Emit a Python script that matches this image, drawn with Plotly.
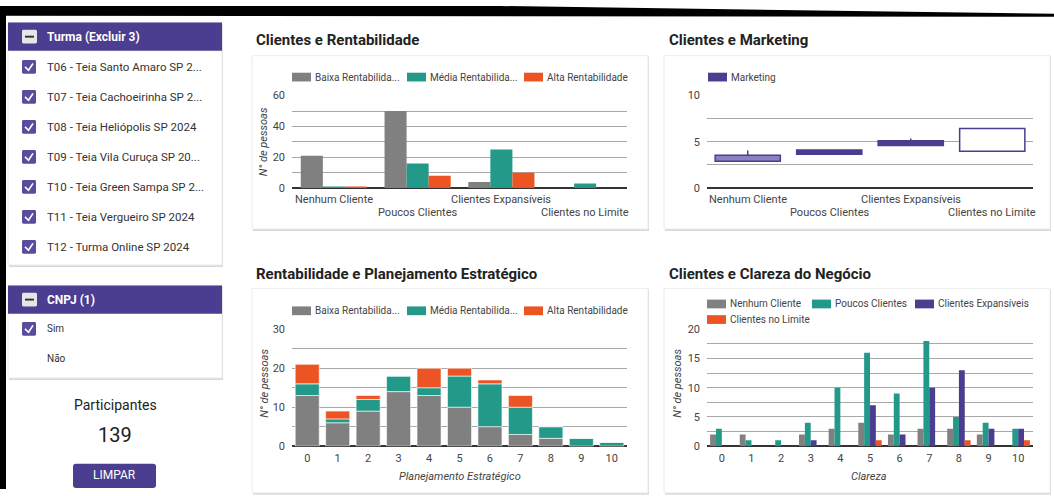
import plotly.graph_objects as go

W, H = 1054, 496


def px(x):
    return x / W


def py(y):
    return 1 - y / H


# ---------------- data ----------------
clientes = ["Nenhum Cliente", "Poucos Clientes", "Clientes Expansíveis", "Clientes no Limite"]
rent_names = ["Baixa Rentabilida...", "Média Rentabilida...", "Alta Rentabilidade"]

# Clientes e Rentabilidade (people per client group)
baixa_cli = [21, 50, 4, 0]
media_cli = [1, 16, 25, 3]
alta_cli = [1, 8, 10, 0]

# Clientes e Marketing (candles: low, open, close, high)
mk_low = [2.9, 3.67, 4.6, 3.99]
mk_open = [3.54, 4.13, 5.13, 3.99]
mk_close = [2.9, 3.67, 4.6, 6.43]
mk_high = [4.07, 4.13, 5.37, 6.43]

# Rentabilidade e Planejamento Estratégico (stacked)
notas = list(range(11))
baixa_plan = [13, 6, 9, 14, 13, 10, 5, 3, 2, 0, 0]
media_plan = [3, 1, 3, 4, 2, 8, 11, 7, 3, 2, 1]
alta_plan = [5, 2, 1, 0, 5, 2, 1, 3, 0, 0, 0]

# Clientes e Clareza do Negócio
clar_nenhum = [2, 2, 0, 2, 3, 4, 2, 3, 3, 2, 0]
clar_poucos = [3, 1, 1, 4, 10, 16, 9, 18, 5, 4, 3]
clar_expans = [0, 0, 0, 1, 0, 7, 2, 10, 13, 3, 3]
clar_limite = [0, 0, 0, 0, 0, 1, 0, 0, 1, 0, 1]

turmas = [
    "T06 - Teia Santo Amaro SP 2...",
    "T07 - Teia Cachoeirinha SP 2...",
    "T08 - Teia Heliópolis SP 2024",
    "T09 - Teia Vila Curuça SP 20...",
    "T10 - Teia Green Sampa SP 2...",
    "T11 - Teia Vergueiro SP 2024",
    "T12 - Turma Online SP 2024",
]
cnpj_opts = ["Sim", "Não"]
cnpj_checked = [True, False]
participantes = 139

# ---------------- styles ----------------
GRAY = "#808080"
TEAL = "#23998a"
ORANGE = "#ec5424"
PURPLE = "#4b3d8f"
LIGHT_PURPLE = "#8b80c2"
GRID = "#a8a8a8"
TXT = "#444444"
FONT = "Roboto"

fig = go.Figure()

# --- chart 1: grouped bars
for vals, name, col in zip([baixa_cli, media_cli, alta_cli], rent_names, [GRAY, TEAL, ORANGE]):
    fig.add_trace(go.Bar(x=clientes, y=vals, name=name, marker_color=col,
                         marker_line_width=0, xaxis="x", yaxis="y", showlegend=False))

# --- chart 2: candles as floating bars + wicks
mk_base = [min(o, c) for o, c in zip(mk_open, mk_close)]
mk_len = [abs(o - c) for o, c in zip(mk_open, mk_close)]
mk_fill = []
for i, (o, c) in enumerate(zip(mk_open, mk_close)):
    if o > c:
        mk_fill.append(LIGHT_PURPLE if i == 0 else PURPLE)
    else:
        mk_fill.append("white")
wx, wy = [], []
for cat, o, c, lo, hi in zip(clientes, mk_open, mk_close, mk_low, mk_high):
    top, bot = max(o, c), min(o, c)
    if hi > top:
        wx += [cat, cat, None]
        wy += [top, hi, None]
    if lo < bot:
        wx += [cat, cat, None]
        wy += [lo, bot, None]
fig.add_trace(go.Bar(x=clientes, y=mk_len, base=mk_base, width=0.8, name="Marketing",
                     marker=dict(color=mk_fill, line=dict(color=PURPLE, width=1.5)),
                     xaxis="x2", yaxis="y2", showlegend=False))
fig.add_trace(go.Scatter(x=wx, y=wy, mode="lines", line=dict(color=PURPLE, width=1.5),
                         xaxis="x2", yaxis="y2", showlegend=False, hoverinfo="skip"))

# --- chart 3: stacked bars (same offset group, explicit bases)
base = [0] * 11
for vals, name, col in zip([baixa_plan, media_plan, alta_plan], rent_names, [GRAY, TEAL, ORANGE]):
    fig.add_trace(go.Bar(x=notas, y=vals, base=list(base), name=name, marker_color=col,
                         marker_line=dict(color="white", width=0.6), offsetgroup="stack",
                         xaxis="x3", yaxis="y3", showlegend=False))
    base = [b + v for b, v in zip(base, vals)]

# --- chart 4: grouped bars
for vals, name, col in zip([clar_nenhum, clar_poucos, clar_expans, clar_limite], clientes,
                           [GRAY, TEAL, PURPLE, ORANGE]):
    fig.add_trace(go.Bar(x=notas, y=vals, name=name, marker_color=col, marker_line_width=0,
                         xaxis="x4", yaxis="y4", showlegend=False))

axis_font = dict(family=FONT, size=11, color=TXT)


def yax(dom_px, rng, dtick, minor):
    return dict(domain=[py(dom_px[1]), py(dom_px[0])], range=rng, dtick=dtick,
                showgrid=True, gridcolor=GRID, gridwidth=1,
                minor=dict(dtick=minor, showgrid=True, gridcolor=GRID, gridwidth=1),
                zeroline=True, zerolinecolor="#333333", zerolinewidth=2,
                showline=False, ticks="", ticklabelstandoff=6, tickfont=axis_font,
                fixedrange=True)


cat_axis = dict(type="category", categoryorder="array", categoryarray=clientes,
                range=[-0.5, 3.5], showticklabels=False, showgrid=False)

fig.update_layout(
    width=W, height=H, margin=dict(l=0, r=0, t=0, b=0),
    paper_bgcolor="white", plot_bgcolor="rgba(0,0,0,0)",
    barmode="group", bargap=0.21, bargroupgap=0,
    font=dict(family=FONT, color=TXT),
    xaxis=dict(domain=[px(292), px(627)], anchor="y", **cat_axis),
    yaxis=yax((92, 187), [0, 60], 20, 10) | dict(anchor="x"),
    xaxis2=dict(domain=[px(707), px(1033)], anchor="y2", **cat_axis),
    yaxis2=yax((92, 187), [0, 10], 5, 2.5) | dict(anchor="x2"),
    xaxis3=dict(domain=[px(292), px(627)], range=[-0.5, 10.5], tickvals=notas,
                showgrid=False, ticks="", tickfont=axis_font, ticklabelstandoff=4, anchor="y3"),
    yaxis3=yax((332, 452), [0, 30], 10, 5) | dict(anchor="x3"),
    xaxis4=dict(domain=[px(707), px(1033)], range=[-0.5, 10.5], tickvals=notas,
                showgrid=False, ticks="", tickfont=axis_font, ticklabelstandoff=4, anchor="y4"),
    yaxis4=yax((332, 452), [0, 20], 5, 2.5) | dict(anchor="x4"),
)

shapes = []
annotations = []


def rect(x0, y0, x1, y1, fill, line=None, lw=0, layer="above"):
    shapes.append(dict(type="rect", xref="paper", yref="paper",
                       x0=px(x0), x1=px(x1), y0=py(y1), y1=py(y0),
                       fillcolor=fill, line=dict(color=line or fill, width=lw), layer=layer))


def round_rect(x0, y0, x1, y1, r, fill):
    pts = ("M {a} {b} L {c} {b} Q {d} {b} {d} {e} L {d} {f} Q {d} {g} {c} {g} "
           "L {a} {g} Q {h} {g} {h} {f} L {h} {e} Q {h} {b} {a} {b} Z").format(
        a=px(x0 + r), b=py(y0), c=px(x1 - r), d=px(x1), e=py(y0 + r), f=py(y1 - r),
        g=py(y1), h=px(x0))
    shapes.append(dict(type="path", xref="paper", yref="paper", path=pts,
                       fillcolor=fill, line=dict(width=0), layer="above"))


def text(x, y, s, size=11, color=TXT, xanchor="left", bold=False, italic=False, angle=0):
    if bold:
        s = "<b>" + s + "</b>"
    if italic:
        s = "<i>" + s + "</i>"
    annotations.append(dict(x=px(x), y=py(y), xref="paper", yref="paper", text=s,
                            showarrow=False, xanchor=xanchor, yanchor="middle",
                            textangle=angle,
                            font=dict(family=FONT, size=size, color=color)))


def card(x0, y0, x1, y1):
    rect(x0 + 1, y0 + 1, x1 + 1, y1 + 2, "#d9d9d9", layer="below")
    rect(x0, y0, x1, y1, "white", line="#ececec", lw=1, layer="below")


# chart cards and titles
card(252, 51, 648, 229)
card(664, 51, 1050, 229)
card(252, 290, 648, 500)
card(664, 290, 1050, 500)
text(254, 35, "Clientes e Rentabilidade", size=15, color="#222", bold=True)
text(667, 35, "Clientes e Marketing", size=15, color="#222", bold=True)
text(254, 275, "Rentabilidade e Planejamento Estratégico", size=15, color="#222", bold=True)
text(667, 275, "Clientes e Clareza do Negócio", size=15, color="#222", bold=True)


def legend_item(x, y, label, color):
    rect(x, y - 4.5, x + 19, y + 4.5, color)
    text(x + 21, y, label, size=10, color=TXT)


for lx, name, col in zip([292, 407, 524], rent_names, [GRAY, TEAL, ORANGE]):
    legend_item(lx, 73, name, col)
    legend_item(lx, 313, name, col)
legend_item(708, 73, "Marketing", PURPLE)
for (lx, ly), name, col in zip([(707, 306), (812, 306), (915, 306), (707, 322)], clientes,
                               [GRAY, TEAL, PURPLE, ORANGE]):
    legend_item(lx, ly, name, col)

# staggered category labels for the client charts
for i, cat in enumerate(clientes):
    yy = 199 if i % 2 == 0 else 212
    for xr in ("x", "x2"):
        annotations.append(dict(x=cat, xref=xr, y=py(yy), yref="paper", text=cat,
                                showarrow=False, yanchor="middle",
                                font=dict(family=FONT, size=11, color=TXT)))

# axis titles
text(263, 140, "N° de pessoas", size=11, color=TXT, xanchor="center", italic=True, angle=-90)
text(265, 388, "N° de pessoas", size=11, color=TXT, xanchor="center", italic=True, angle=-90)
text(678, 388, "N° de pessoas", size=11, color=TXT, xanchor="center", italic=True, angle=-90)
text(460, 483, "Planejamento Estratégico", size=11, color=TXT, xanchor="center", italic=True)
text(869, 483, "Clareza", size=11, color=TXT, xanchor="center", italic=True)

# ---------------- sidebar ----------------


def checkbox(y):
    round_rect(22, y - 7, 36, y + 7, 1.5, "#5a4b9c")
    path = "M {} {} L {} {} L {} {}".format(px(25), py(y), px(28.5), py(y + 3.5), px(33), py(y - 3.5))
    shapes.append(dict(type="path", xref="paper", yref="paper", path=path,
                       line=dict(color="white", width=1.6), layer="above"))


def header(y0, y1, label):
    rect(8, y0, 222, y1, PURPLE)
    yc = (y0 + y1) / 2
    round_rect(22, yc - 7, 37, yc + 7, 1.5, "#e6e6e6")
    rect(25, yc - 1, 34, yc + 1, "#333333")
    text(45, yc, label, size=12, color="white", bold=True)


card(8, 17, 222, 266)
header(17, 46, "Turma (Excluir 3)")
for i, t in enumerate(turmas):
    yy = 62.5 + i * 30.8
    checkbox(yy)
    text(45, yy, t, size=11.5, color="#333")

card(8, 287, 222, 382)
header(287, 316, "CNPJ (1)")
for i, (opt, chk) in enumerate(zip(cnpj_opts, cnpj_checked)):
    yy = 331.5 + i * 31
    if chk:
        checkbox(yy)
    text(45, yy, opt, size=10, color="#333")

text(115, 410, "Participantes", size=14, color="#222", xanchor="center")
text(115, 441, str(participantes), size=20, color="#222", xanchor="center")
round_rect(73, 470, 156, 495, 3, PURPLE)
text(114.5, 482, "LIMPAR", size=12, color="white", xanchor="center")

# frame around the page
rect(0, 0, 6, 496, "black")
shapes.append(dict(type="path", xref="paper", yref="paper",
                   path="M {} {} L {} {} L {} {} L {} {} L {} {} Z".format(
                       px(0), py(0), px(500), py(0), px(1054), py(8), px(1054), py(11), px(0), py(10)),
                   fillcolor="black", line=dict(width=0), layer="above"))

fig.update_layout(shapes=shapes, annotations=annotations)
fig.write_html("out.html")
